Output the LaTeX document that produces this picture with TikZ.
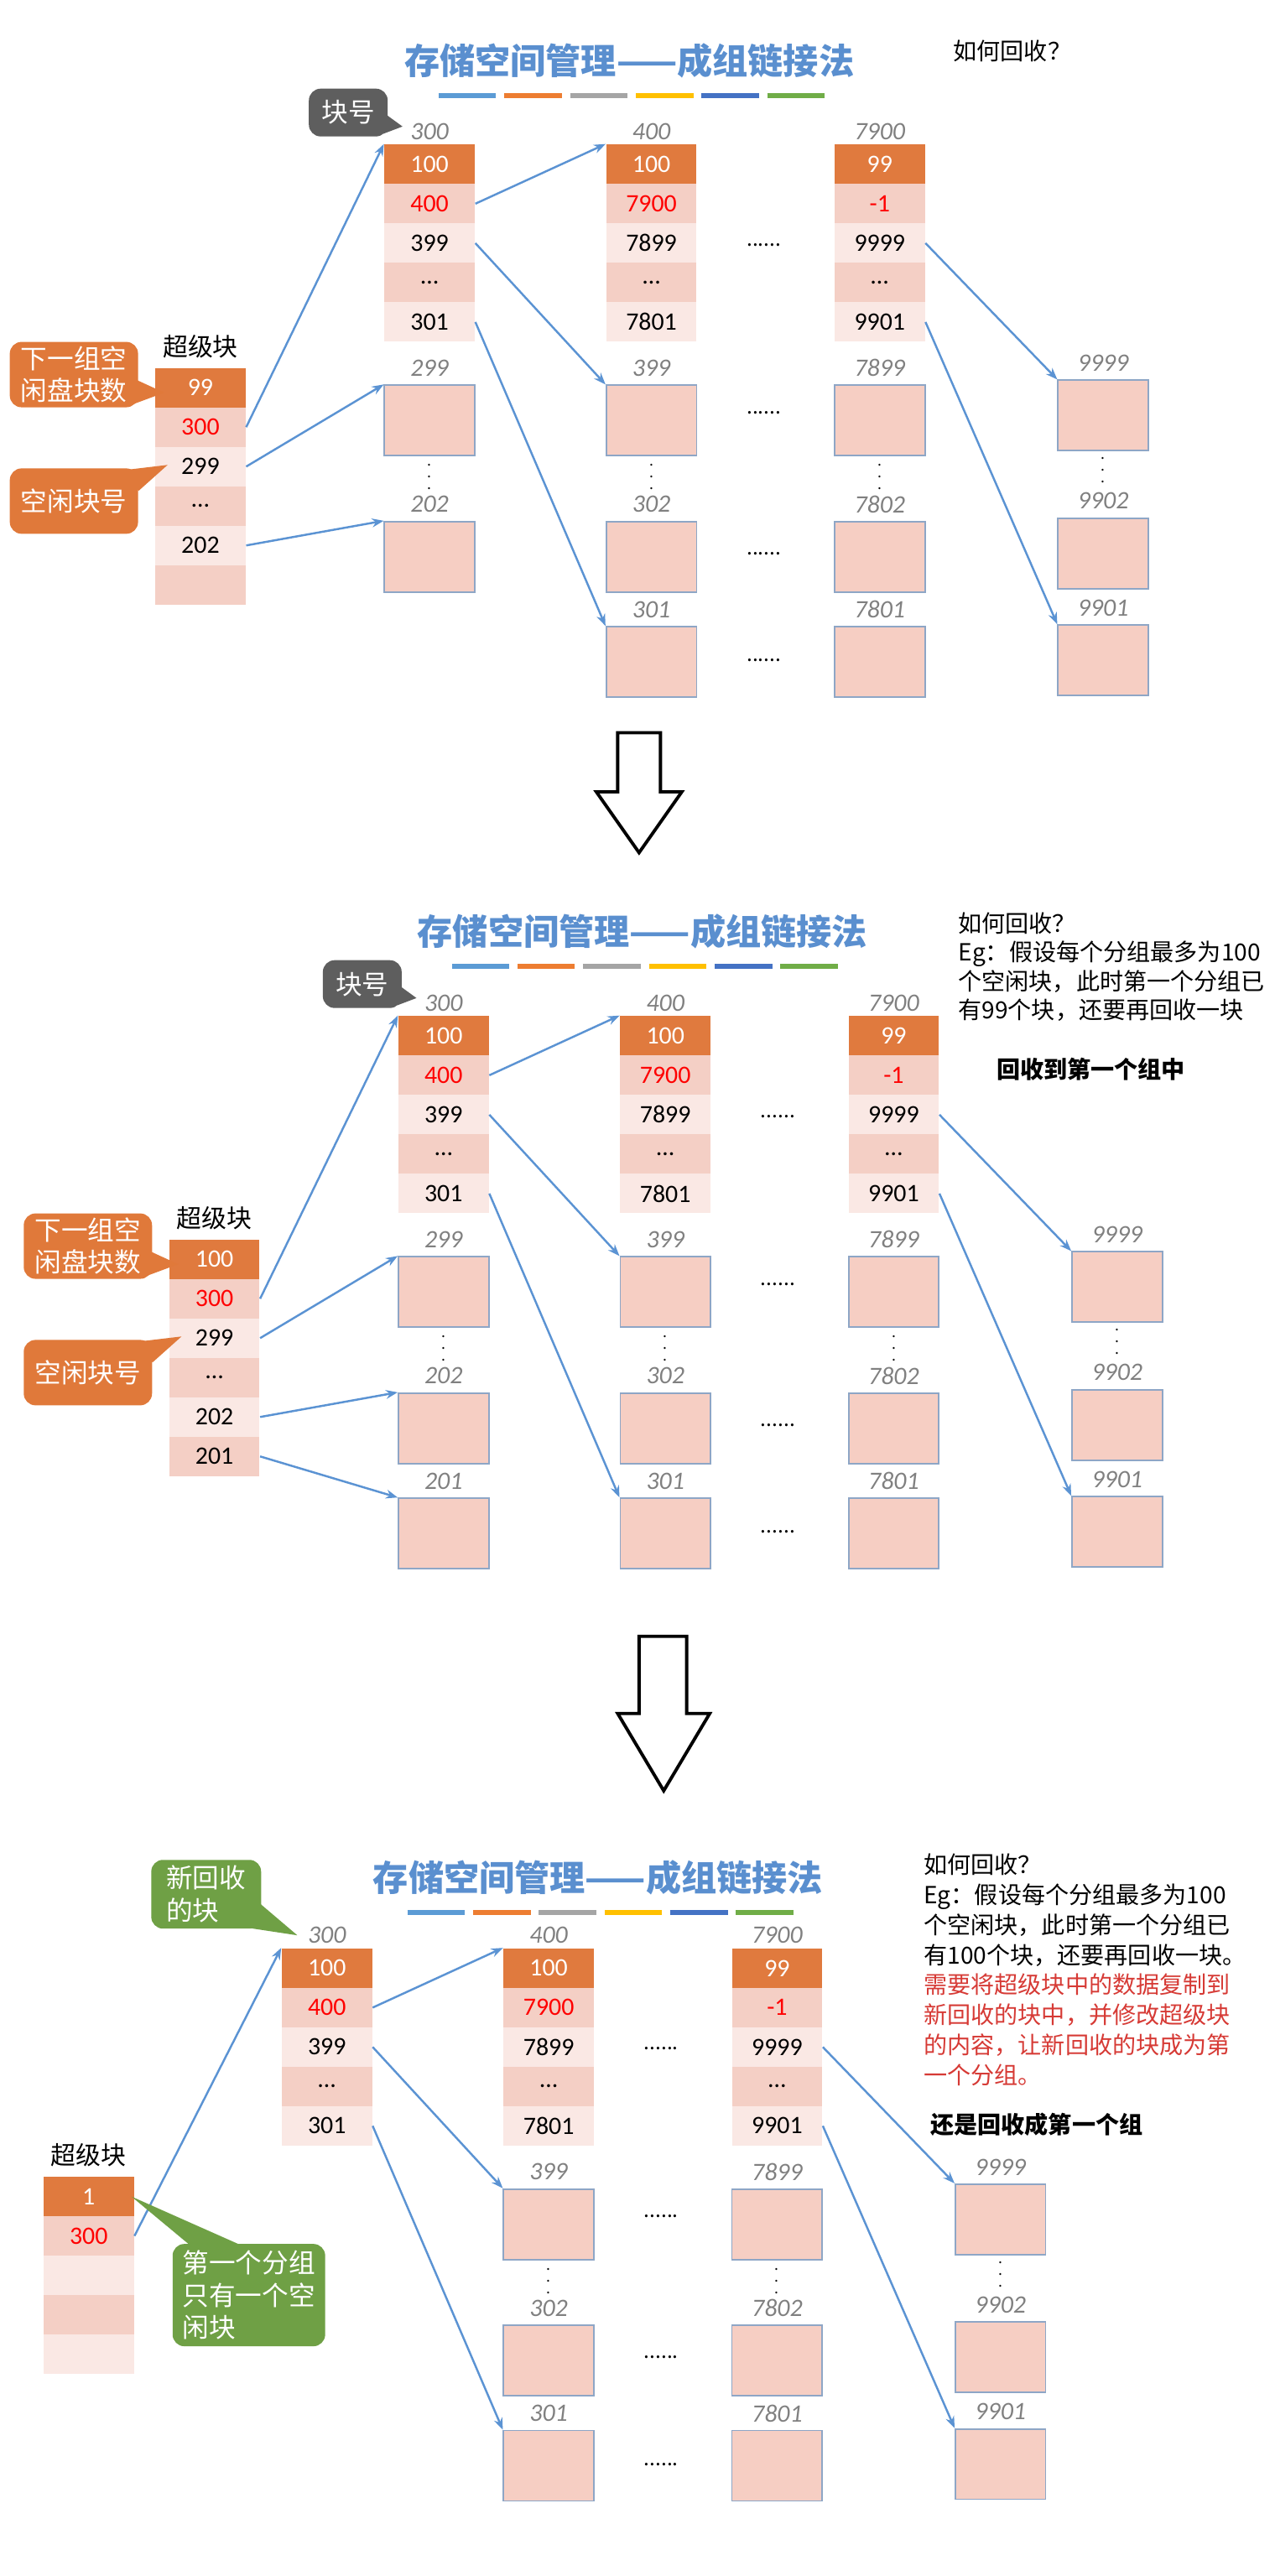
\documentclass[tikz,border=0pt]{standalone}
\usepackage{fontspec}
\setmainfont{Noto Sans CJK SC}
\newfontfamily\numfont{Carlito}
\usetikzlibrary{arrows.meta,calc}

\definecolor{cellhead}{HTML}{E07A3E}
\definecolor{cellpink}{HTML}{F4CFC5}
\definecolor{celllight}{HTML}{FAE8E4}
\definecolor{blkfill}{HTML}{F6CEC3}
\definecolor{blkline}{HTML}{8EA6C6}
\definecolor{linkblue}{HTML}{5B93D3}
\definecolor{titleblue}{HTML}{5A8FCF}
\definecolor{noteorange}{HTML}{E0793A}
\definecolor{notegray}{HTML}{5E5E5E}
\definecolor{notegreen}{HTML}{6FA045}
\definecolor{textred}{HTML}{D63A35}
\definecolor{barA}{HTML}{5B9BD5}
\definecolor{barB}{HTML}{ED7D31}
\definecolor{barC}{HTML}{A5A5A5}
\definecolor{barD}{HTML}{FFC000}
\definecolor{barE}{HTML}{4472C4}
\definecolor{barF}{HTML}{70AD47}

\tikzset{
  cell/.style={minimum width=1.077cm, minimum height=0.47cm, inner sep=0pt,
    font=\numfont\fontsize{8.5}{9}\selectfont},
  hdr/.style={text=gray, font=\numfont\itshape\fontsize{8.5}{9}\selectfont},
  blk/.style={fill=blkfill, draw=blkline, line width=0.5pt,
    minimum width=1.077cm, minimum height=0.84cm, inner sep=0pt},
  link/.style={draw=linkblue, line width=0.7pt, -{Stealth[length=4pt,width=3pt]}},
  note/.style={rounded corners=4pt, text=white, align=left, inner sep=0pt,
    font=\fontsize{9}{11}\selectfont},
  hdots/.style={font=\fontsize{7}{7}\selectfont},
  vdots/.style={font=\fontsize{5}{5}\selectfont, inner sep=0pt},
  remark/.style={align=left, anchor=north west, inner sep=0pt,
    font=\fontsize{8}{9.8}\selectfont},
  title/.style={text=titleblue, font=\bfseries\fontsize{12}{14}\selectfont},
  bigarrow/.style={draw=black, line width=1.1pt, line join=miter}
}

% one table of block numbers: name, x, header, first, second, third, last
\newcommand{\grpcol}[7]{%
  \node[hdr] at (#2,80) {#3};
  \node[cell,fill=cellhead,text=white] (#1-1) at (#2,100) {#4};
  \node[cell,fill=cellpink,text=red] (#1-2) at (#2,124) {#5};
  \node[cell,fill=celllight] (#1-3) at (#2,148) {#6};
  \node[cell,fill=cellpink] (#1-4) at (#2,172) {\ldots};
  \node[cell,fill=celllight] (#1-5) at (#2,196) {#7};
}
% one free block: name, x, top, label
\newcommand{\freeblk}[4]{%
  \node[hdr] at (#2,#3-10) {#4};
  \node[blk,anchor=north] (#1) at (#2,#3) {};
}
% super block: name, x, top, values
\newcommand{\superblk}[4]{%
  \node[font=\fontsize{8.5}{9}\selectfont] at (#2,#3-13) {超级块};
  \foreach \v [count=\i] in {#4} {
    \ifnum\i=1 \def\cf{cellhead}\def\tc{white}%
    \else\ifodd\i \def\cf{celllight}\def\tc{black}%
    \else \def\cf{cellpink}\def\tc{black}\fi\fi
    \ifnum\i=2 \def\tc{red}\fi
    \node[cell,fill=\cf,text=\tc] (#1-\i) at (#2,#3+\i*24-12) {\v};
  }
}
% title and colour bars: x, y
\newcommand{\slidetitle}[2]{%
  \node[title] at (#1,#2) {存储空间管理——成组链接法};
  \foreach \c [count=\i] in {barA,barB,barC,barD,barE,barF}
    \draw[\c, line width=1.7pt] (#1-116+\i*40-40,#2+21) -- ++(35,0);
}
% the group chain shared by all three pictures
\newcommand{\groupchain}{%
  \grpcol{A}{261.5}{300}{100}{400}{399}{301}
  \grpcol{B}{396.5}{400}{100}{7900}{7899}{7801}
  \grpcol{C}{535.5}{7900}{99}{-1}{9999}{9901}
  \freeblk{B1}{396.5}{234}{399}
  \freeblk{B2}{396.5}{317}{302}
  \freeblk{B3}{396.5}{381}{301}
  \freeblk{C1}{535.5}{234}{7899}
  \freeblk{C2}{535.5}{317}{7802}
  \freeblk{C3}{535.5}{381}{7801}
  \freeblk{D1}{671.5}{231}{9999}
  \freeblk{D2}{671.5}{315}{9902}
  \freeblk{D3}{671.5}{380}{9901}
  \foreach \y in {152,254,340,405} \node[hdots] at (465,\y-3) {......};
  \foreach \x/\y in {396.5/285,535.5/285,671.5/281} \node[vdots] at (\x,\y) {$\vdots$};
  \draw[link] (A-2.east) -- (B-1.north west);
  \draw[link] (A-3.east) -- (B1.north west);
  \draw[link] (A-5.east) -- (B3.north west);
  \draw[link] (C-3.east) -- (D1.north west);
  \draw[link] (C-5.east) -- (D3.north west);
}

\begin{document}
\begin{tikzpicture}[x=0.01959cm, y=-0.01959cm]
  \useasboundingbox (0,0) rectangle (776,1568);

  % first picture
  \slidetitle{383}{37}
  \node[remark] at (580,24) {如何回收？};
  \groupchain
  \freeblk{A1}{261.5}{234}{299}
  \freeblk{A2}{261.5}{317}{202}
  \node[vdots] at (261.5,285) {$\vdots$};
  \superblk{sb}{122}{224}{99,300,299,\ldots,202,{}}
  \draw[link] (sb-2.east) -- (A-1.north west);
  \draw[link] (sb-3.east) -- (A1.north west);
  \draw[link] (sb-5.east) -- (A2.north west);
  \node[note,fill=noteorange,minimum width=1.53cm,minimum height=0.78cm] (nextnote) at (45,228) {下一组空\\闲盘块数};
  \fill[noteorange] ($(nextnote.east)+(-4,2)$) -- (100,239) -- ($(nextnote.south east)+(-4,-2)$) -- cycle;
  \node[note,fill=noteorange,minimum width=1.53cm,minimum height=0.78cm] (freenote) at (45,305) {空闲块号};
  \fill[noteorange] ($(freenote.north east)+(-14,2)$) -- (102,283) -- ($(freenote.north east)+(0,14)$) -- cycle;
  \node[note,fill=notegray,minimum width=0.94cm,minimum height=0.57cm] (idnote) at (212,68.5) {块号};
  \fill[notegray] ($(idnote.east)+(-3,0)$) -- (245,77) -- ($(idnote.south east)+(-3,-2)$) -- cycle;

  \draw[bigarrow] (376,446) -- (402,446) -- (402,482) -- (415,482) -- (389,519)
    -- (363,482) -- (376,482) -- cycle;

  % second picture
  \slidetitle{391}{567}
  \node[remark] at (583,555) {如何回收？\\Eg：假设每个分组最多为100\\个空闲块，此时第一个分组已\\有99个块，还要再回收一块};
  \node[font=\bfseries\fontsize{8}{9}\selectfont] at (664,651) {回收到第一个组中};
  \begin{scope}[shift={(8.5,530.5)}]
    \groupchain
    \freeblk{A1}{261.5}{234}{299}
    \freeblk{A2}{261.5}{317}{202}
    \freeblk{A3}{261.5}{381}{201}
    \node[vdots] at (261.5,285) {$\vdots$};
    \superblk{sb}{122}{224}{100,300,299,\ldots,202,201}
    \draw[link] (sb-2.east) -- (A-1.north west);
    \draw[link] (sb-3.east) -- (A1.north west);
    \draw[link] (sb-5.east) -- (A2.north west);
    \draw[link] (sb-6.east) -- (A3.north west);
    \node[note,fill=noteorange,minimum width=1.53cm,minimum height=0.78cm] (nextnote) at (45,228) {下一组空\\闲盘块数};
    \fill[noteorange] ($(nextnote.east)+(-4,2)$) -- (100,239) -- ($(nextnote.south east)+(-4,-2)$) -- cycle;
    \node[note,fill=noteorange,minimum width=1.53cm,minimum height=0.78cm] (freenote) at (45,305) {空闲块号};
    \fill[noteorange] ($(freenote.north east)+(-14,2)$) -- (102,283) -- ($(freenote.north east)+(0,14)$) -- cycle;
    \node[note,fill=notegray,minimum width=0.94cm,minimum height=0.57cm] (idnote) at (212,68.5) {块号};
    \fill[notegray] ($(idnote.east)+(-3,0)$) -- (245,77) -- ($(idnote.south east)+(-3,-2)$) -- cycle;
  \end{scope}

  \draw[bigarrow] (389,996) -- (418,996) -- (418,1043) -- (432,1043) -- (404,1090)
    -- (376,1043) -- (389,1043) -- cycle;

  % third picture
  \slidetitle{364}{1143}
  \node[remark,font=\fontsize{8}{10.2}\selectfont] at (562,1128) {如何回收？\\Eg：假设每个分组最多为100\\个空闲块，此时第一个分组已\\有100个块，还要再回收一块。\\
    \textcolor{textred}{需要将超级块中的数据复制到}\\\textcolor{textred}{新回收的块中，并修改超级块}\\
    \textcolor{textred}{的内容，让新回收的块成为第}\\\textcolor{textred}{一个分组。}};
  \node[font=\bfseries\fontsize{8}{9}\selectfont] at (631,1293) {还是回收成第一个组};
  \begin{scope}[shift={(-62.5,1098)}]
    \groupchain
  \end{scope}
  \superblk{sb}{54}{1325}{1,300,{},{},{}}
  \draw[link] (sb-2.east) -- (A-1.north west);
  \node[note,fill=notegreen,minimum width=1.31cm,minimum height=0.82cm] (newnote) at (125.5,1153) {新回收\\的块};
  \fill[notegreen] ($(newnote.east)+(-3,4)$) -- (181,1178) -- ($(newnote.south east)+(-16,-2)$) -- cycle;
  \node[note,fill=notegreen,minimum width=1.82cm,minimum height=1.22cm] (firstnote) at (151.5,1397) {第一个分组\\只有一个空\\闲块};
  \fill[notegreen] ($(firstnote.north west)+(12,2)$) -- (80,1337) -- ($(firstnote.north west)+(44,2)$) -- cycle;
\end{tikzpicture}
\end{document}
